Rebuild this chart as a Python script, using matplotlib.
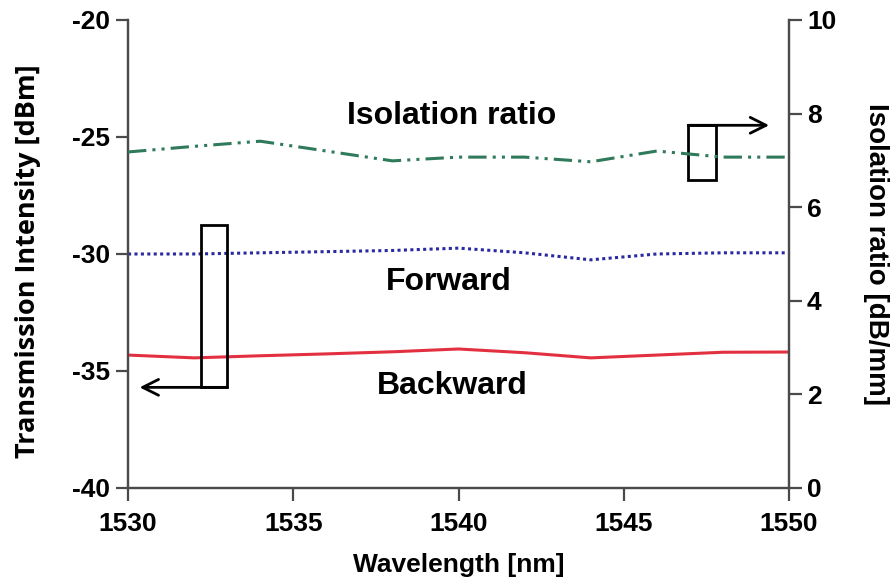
import numpy as np
import matplotlib
matplotlib.use('Agg')
import matplotlib.pyplot as plt

# wavelength grid [nm]
wavelength=[1530,1532,1534,1536,1538,1540,1542,1544,1546,1548,1550]

# transmission intensity [dBm]
forward=[-30.0,-30.0,-29.95,-29.9,-29.85,-29.75,-29.95,-30.25,-30.0,-29.95,-29.95]
backward=[-34.32,-34.44,-34.35,-34.27,-34.18,-34.06,-34.22,-34.44,-34.32,-34.2,-34.19]

# isolation ratio [dB/mm]
isolation=[7.18,7.3,7.41,7.2,6.99,7.07,7.07,6.97,7.2,7.07,7.07]

matplotlib.rcParams.update({'font.family':'Liberation Sans','font.weight':'bold','font.size':19,
                            'axes.unicode_minus':False})

fig=plt.figure(figsize=(8.91,5.83),dpi=100)
ax=fig.add_axes([0.1437,0.163,0.7418,0.8027])
ax2=ax.twinx()

ax.plot(wavelength,backward,color='#e33040',lw=2.2,zorder=3)
ax.plot(wavelength,forward,color='#2a2aa0',lw=2.2,ls=(0,(1,1.1)),zorder=3)
ax2.plot(wavelength,isolation,color='#2f7a5a',lw=2.2,ls=(0,(6,2,1,2,1,2)),zorder=3)

ax.set_xlim(1530,1550)
ax.set_ylim(-40,-20)
ax2.set_ylim(0,10)
ax.set_xticks([1530,1535,1540,1545,1550])
ax.set_yticks([-40,-35,-30,-25,-20])
ax2.set_yticks([0,2,4,6,8,10])

for a in (ax,ax2):
    for s in a.spines.values():
        s.set_color('#4a4a4a')
        s.set_linewidth(1.6)
    a.spines['top'].set_visible(False)
    a.tick_params(direction='out',length=9,width=1.6,color='#4a4a4a',labelsize=19,pad=4)
ax.tick_params(axis='x',pad=8)

ax.set_xlabel('Wavelength [nm]',fontsize=19,fontweight='bold',va='center')
ax.xaxis.set_label_coords(0.5,-0.165)
ax.set_ylabel('Transmission Intensity [dBm]',fontsize=19.5,fontweight='bold',family='Open Sans',va='center')
ax.yaxis.set_label_coords(-0.151,0.484)
ax2.set_ylabel('Isolation ratio [dB/mm]',fontsize=20,fontweight='bold',rotation=270,va='center')
ax2.yaxis.set_label_coords(1.131,0.5)

# curve labels
ax.text(1539.8,-24.1,'Isolation ratio',fontsize=23,fontweight='bold',ha='center',va='center')
ax.text(1539.7,-31.2,'Forward',fontsize=23,fontweight='bold',ha='center',va='center')
ax.text(1539.8,-35.65,'Backward',fontsize=23,fontweight='bold',ha='center',va='center')

# axis indicator boxes with arrows
ax.add_patch(plt.Rectangle((1532.2,-35.7),0.8,6.95,fill=False,ec='black',lw=2,zorder=4))
ax.annotate('',xy=(1530.35,-35.7),xytext=(1533.0,-35.7),
            arrowprops=dict(arrowstyle='->,head_length=0.6,head_width=0.3',lw=2,color='black',shrinkA=0,shrinkB=0),zorder=4)
ax.add_patch(plt.Rectangle((1546.95,-26.85),0.85,2.35,fill=False,ec='black',lw=2,zorder=4))
ax.annotate('',xy=(1549.4,-24.5),xytext=(1546.95,-24.5),
            arrowprops=dict(arrowstyle='->,head_length=0.6,head_width=0.3',lw=2,color='black',shrinkA=0,shrinkB=0),zorder=4)

plt.savefig('out.png',dpi=100)
